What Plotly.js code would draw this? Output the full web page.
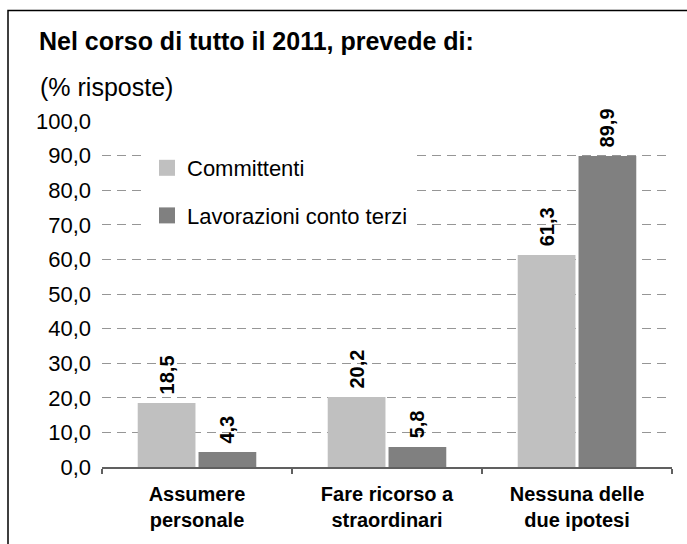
<!DOCTYPE html>
<html>
<head>
<meta charset="utf-8">
<script src="https://cdn.plot.ly/plotly-3.0.1.min.js"></script>
<style>html,body{margin:0;padding:0;background:#fff;}#chart{width:687px;height:544px;}</style>
</head>
<body>
<div id="chart"></div>
<script>
var categories = ['Assumere<br>personale', 'Fare ricorso a<br>straordinari', 'Nessuna delle<br>due ipotesi'];
var seriesNames = ['Committenti', 'Lavorazioni conto terzi'];
var committenti = [18.5, 20.2, 61.3];
var lavorazioni = [4.3, 5.8, 89.9];
var yTicks = [0, 10, 20, 30, 40, 50, 60, 70, 80, 90, 100];
var colors = ['#C0C0C0', '#808080'];

var FONT = 'Liberation Sans, Arial, sans-serif';
var W = 687, H = 544;
var M = {l: 102, r: 15, t: 121, b: 77};
var pw = W - M.l - M.r, ph = H - M.t - M.b;
function px(x) { return (x - M.l) / pw; }
function py(y) { return (H - M.b - y) / ph; }

function barTrace(name, vals, color) {
  return {
    type: 'bar', name: name, x: categories, y: vals,
    marker: {color: color, line: {width: 0}},
    texttemplate: '\u00a0%{y:.1f}', textposition: 'outside', textangle: -90,
    textfont: {family: FONT, size: 20, color: '#000', weight: 'bold'},
    constraintext: 'none', cliponaxis: false, showlegend: false, hoverinfo: 'none'
  };
}
function legendTrace(name, color, grp) {
  return {
    type: 'scatter', mode: 'markers', name: name, x: [categories[0]], y: [null],
    marker: {symbol: 'square', size: 16, color: color, line: {width: 0}},
    legendgroup: grp, showlegend: true, hoverinfo: 'none'
  };
}

var data = [
  barTrace(seriesNames[0], committenti, colors[0]),
  barTrace(seriesNames[1], lavorazioni, colors[1]),
  legendTrace(seriesNames[0], colors[0], 'a'),
  legendTrace(seriesNames[1], colors[1], 'b')
];

var layout = {
  width: W, height: H,
  margin: M,
  paper_bgcolor: '#fff', plot_bgcolor: '#fff',
  separators: ',.',
  font: {family: FONT, color: '#000'},
  barmode: 'group', bargap: 0.36, bargroupgap: 0.05,
  title: {
    text: '<b>Nel corso di tutto il 2011, prevede di:</b>',
    font: {family: FONT, size: 25, color: '#000'},
    x: 39 / W, xanchor: 'left', xref: 'container',
    y: 1 - 41 / H, yanchor: 'middle', yref: 'container'
  },
  annotations: [{
    text: '(% risposte)', xref: 'paper', yref: 'paper',
    x: px(38), y: py(87), xanchor: 'left', yanchor: 'middle', showarrow: false,
    font: {family: FONT, size: 25, color: '#000'}
  }],
  xaxis: {
    type: 'category', showgrid: false, zeroline: false,
    showline: true, linecolor: '#606060', linewidth: 1.5,
    ticks: 'outside', tickson: 'boundaries', ticklen: 5, tickcolor: '#606060', tickwidth: 1.5,
    tickfont: {family: FONT, size: 20, color: '#000', weight: 'bold'},
    ticklabelstandoff: 8, fixedrange: true
  },
  yaxis: {
    range: [0, 100], tickmode: 'array', tickvals: yTicks, tickformat: '.1f',
    showgrid: true, gridcolor: '#969696', gridwidth: 1, griddash: '9px,6px',
    zeroline: false, showline: false, ticks: '',
    tickfont: {family: FONT, size: 22, color: '#000'},
    ticklabelstandoff: 10, fixedrange: true
  },
  legend: {
    x: px(147), y: py(147), xanchor: 'left', yanchor: 'top',
    bgcolor: '#fff', borderwidth: 0,
    font: {family: FONT, size: 22, color: '#000'},
    traceorder: 'grouped', tracegroupgap: 16, itemsizing: 'trace'
  },
  shapes: [{
    type: 'rect', xref: 'paper', yref: 'paper',
    x0: px(8), x1: px(720), y0: py(580), y1: py(10.5),
    line: {color: '#000', width: 1.5}, fillcolor: 'rgba(0,0,0,0)', layer: 'below'
  }]
};

Plotly.newPlot('chart', data, layout, {staticPlot: true, displayModeBar: false});
</script>
</body>
</html>
